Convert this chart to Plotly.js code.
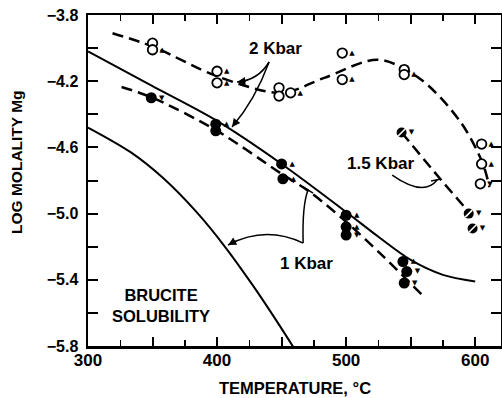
<!DOCTYPE html>
<html>
<head>
<meta charset="utf-8">
<script src="https://cdn.plot.ly/plotly-3.0.1.min.js"></script>
<style>
  html, body { margin: 0; padding: 0; background: #fff; }
  #chart { width: 502px; height: 398px; }
</style>
</head>
<body>
<div id="chart"></div>
<script>
// Mg solubility vs temperature (log molality), experimental runs and fitted curves

// 2 Kbar, upper branch: open circles
const T_OPEN = [350, 350, 400, 400, 448, 448, 457, 497, 497, 545, 545, 605, 605, 604];
const L_OPEN = [-3.97, -4.01, -4.14, -4.21, -4.24, -4.29, -4.27, -4.03, -4.19, -4.13, -4.16, -4.58, -4.70, -4.82];
const DIR_OPEN = ['none', 'up', 'up', 'up', 'none', 'none', 'up', 'up', 'up', 'none', 'up', 'up', 'up', 'down'];

// 2 Kbar, lower branch: filled circles
const T_FILLED = [349, 399, 399, 450, 451, 500, 500, 500, 544, 547, 545];
const L_FILLED = [-4.30, -4.46, -4.50, -4.70, -4.79, -5.01, -5.08, -5.13, -5.29, -5.35, -5.42];
const DIR_FILLED = ['down', 'up', 'none', 'up', 'up', 'up', 'up', 'down', 'up', 'down', 'down'];

// 1.5 Kbar runs: slashed circles
const T_MID = [543, 595, 598];
const L_MID = [-4.51, -5.00, -5.09];
const DIR_MID = ['down', 'down', 'down'];

// fitted curves
const T_2KB_UP = [319, 350, 400, 450, 483, 525, 558, 589, 606, 611];
const L_2KB_UP = [-3.91, -3.99, -4.17, -4.27, -4.18, -4.07, -4.19, -4.45, -4.70, -4.84];

const T_2KB_LOW = [326, 350, 400, 450, 472, 500, 529, 560];
const L_2KB_LOW = [-4.235, -4.30, -4.50, -4.76, -4.87, -5.05, -5.26, -5.50];

const T_15KB = [543, 574, 595];
const L_15KB = [-4.51, -4.80, -4.99];

const T_1KB = [300, 350, 400, 450, 500, 525, 550, 575, 600];
const L_1KB = [-4.02, -4.23, -4.44, -4.70, -4.99, -5.14, -5.28, -5.37, -5.41];

const T_BRUCITE = [300, 333, 358, 384, 406, 428, 449, 462];
const L_BRUCITE = [-4.48, -4.629, -4.784, -4.99, -5.199, -5.437, -5.683, -5.843];

// axis ticks
const X_TICKS = [300, 350, 400, 450, 500, 550, 600];
const X_LABELS = ['300', '', '400', '', '500', '', '600'];
const X_MINOR = [325, 375, 425, 475, 525, 575];
const Y_TICKS = [-3.8, -4.0, -4.2, -4.4, -4.6, -4.8, -5.0, -5.2, -5.4, -5.6, -5.8];
const Y_LABELS = ['\u22123.8', '', '\u22124.2', '', '\u22124.6', '', '\u22125.0', '', '\u22125.4', '', '\u22125.8'];

const FONT = 'Liberation Sans, Arial, sans-serif';
const ARROW_GLYPH = { up: '\u25B2', down: '\u25BC', none: '' };
const glyphs = dirs => dirs.map(d => ARROW_GLYPH[d]);

const DASH = '11px,6px';

const curve = (x, y, dash, width) => ({
  x, y, type: 'scatter', mode: 'lines', hoverinfo: 'skip',
  line: { color: '#000', width, dash, shape: 'spline', smoothing: 0.9 }
});

const points = (x, y, dirs, marker) => ({
  x, y, type: 'scatter', mode: 'markers+text', hoverinfo: 'skip',
  text: glyphs(dirs), textposition: 'middle right',
  textfont: { family: 'DejaVu Sans', size: 7, color: '#000' },
  marker, cliponaxis: false
});

const traces = [
  curve(T_BRUCITE, L_BRUCITE, 'solid', 2),
  curve(T_1KB, L_1KB, 'solid', 2),
  curve(T_2KB_UP, L_2KB_UP, DASH, 2.5),
  curve(T_2KB_LOW, L_2KB_LOW, DASH, 2.5),
  curve(T_15KB, L_15KB, DASH, 2.5),
  points(T_OPEN, L_OPEN, DIR_OPEN,
    { symbol: 'circle', size: 9.5, color: '#fff', line: { color: '#000', width: 1.8 } }),
  points(T_FILLED, L_FILLED, DIR_FILLED,
    { symbol: 'circle', size: 11, color: '#000', line: { color: '#000', width: 0 } }),
  points(T_MID, L_MID, DIR_MID,
    { symbol: 'circle', size: 10, color: '#000', line: { color: '#000', width: 0 } }),
  { x: T_MID, y: L_MID, type: 'scatter', mode: 'markers', hoverinfo: 'skip',
    marker: { symbol: 'line-ne', size: 7, line: { color: '#fff', width: 1.6 } } }
];

// leader lines from the pressure labels to their curves
const pathShape = d => ({ type: 'path', xref: 'x', yref: 'y', path: d,
  line: { color: '#000', width: 1.5 } });
const shapes = [
  pathShape('M 440.3,-4.084 Q 431.8,-4.195 415.5,-4.205'),
  pathShape('M 440.3,-4.084 Q 429.5,-4.314 411.6,-4.477'),
  pathShape('M 408.5,-5.190 Q 437.2,-5.069 466.7,-5.178'),
  pathShape('M 466.7,-5.178 Q 465.9,-4.948 470.5,-4.857'),
  pathShape('M 466.7,-4.839 L 474.4,-4.876'),
  pathShape('M 535.7,-4.767 Q 560.0,-4.900 570.5,-4.797'),
  pathShape('M 565.8,-4.803 L 573.5,-4.791')
];

const arrowHead = (x, y, ax, ay) => ({
  x, y, xref: 'x', yref: 'y', ax, ay, text: '', showarrow: true,
  arrowhead: 2, arrowsize: 1.1, arrowwidth: 1.5, arrowcolor: '#000', standoff: 0
});
const label = (text, x, y, size, extra) => Object.assign({
  text, x, y, xref: 'x', yref: 'y', showarrow: false,
  font: { family: FONT, size, color: '#000', weight: 'bold' }
}, extra || {});

const annotations = [
  label('2 Kbar', 445, -4.005, 17),
  label('1.5 Kbar', 527, -4.70, 17),
  label('1 Kbar', 469, -5.30, 17),
  label('BRUCITE<br>SOLUBILITY', 356.6, -5.558, 16.5, { align: 'center' }),
  arrowHead(415.5, -4.205, 10, -1),
  arrowHead(411.6, -4.477, 6, -8),
  arrowHead(408.5, -5.190, 9, -5),
  { text: 'LOG MOLALITY Mg', xref: 'paper', yref: 'paper', x: -0.172, y: 0.556,
    textangle: -90, showarrow: false, xanchor: 'center', yanchor: 'middle',
    font: { family: FONT, size: 15.5, color: '#000', weight: 'bold' } },
  { text: 'TEMPERATURE, \u00B0C', xref: 'paper', yref: 'paper', x: 0.501, y: -0.128,
    showarrow: false, xanchor: 'center', yanchor: 'middle',
    font: { family: FONT, size: 16.5, color: '#000', weight: 'bold' } }
];

const axisCommon = {
  showgrid: false, zeroline: false, showline: true, linecolor: '#000', linewidth: 2.5,
  mirror: 'allticks', ticks: 'inside', tickwidth: 2, tickcolor: '#000',
  tickmode: 'array', fixedrange: true
};

const layout = {
  width: 502, height: 398,
  margin: { l: 88, r: 1, t: 15, b: 52 },
  paper_bgcolor: '#fff', plot_bgcolor: '#fff',
  showlegend: false,
  xaxis: Object.assign({}, axisCommon, {
    range: [300, 620], tickvals: X_TICKS, ticktext: X_LABELS, ticklen: 9,
    tickfont: { family: FONT, size: 17, color: '#000', weight: 'bold' },
    ticklabelstandoff: -3,
    minor: { tickvals: X_MINOR, ticks: 'inside', ticklen: 6, tickwidth: 1.5, tickcolor: '#000' }
  }),
  yaxis: Object.assign({}, axisCommon, {
    range: [-5.8, -3.8], tickvals: Y_TICKS, ticktext: Y_LABELS, ticklen: 10,
    tickfont: { family: FONT, size: 16, color: '#000', weight: 'bold' },
    ticklabelstandoff: 4
  }),
  shapes, annotations
};

Plotly.newPlot('chart', traces, layout, { staticPlot: true, displayModeBar: false });
</script>
</body>
</html>
